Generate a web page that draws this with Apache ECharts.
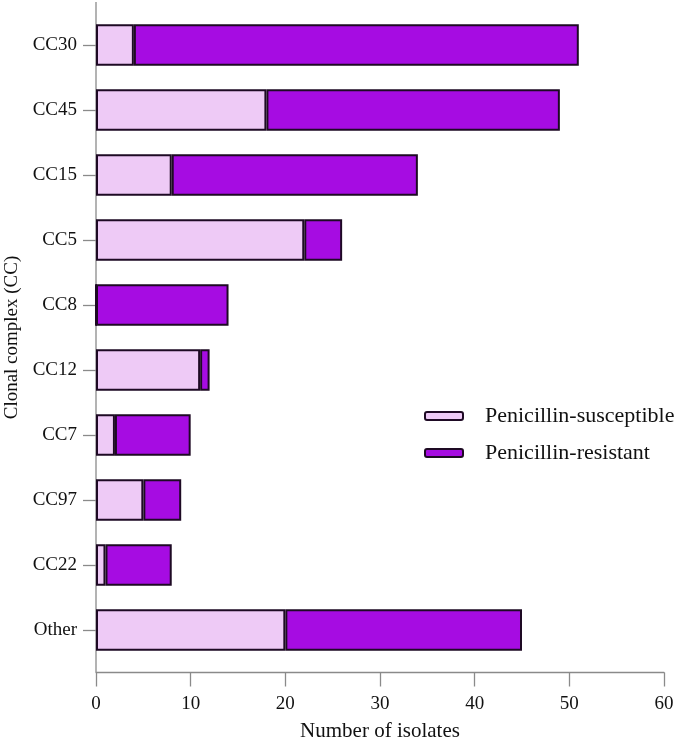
<!DOCTYPE html>
<html>
<head>
<meta charset="utf-8">
<script src="https://cdn.jsdelivr.net/npm/echarts@6/dist/echarts.min.js"></script>
<style>
html,body{margin:0;padding:0;background:#fff;}
#main{width:683px;height:745px;}
</style>
</head>
<body>
<div id="main"></div>
<script>
// 数据
var categories = ['CC30','CC45','CC15','CC5','CC8','CC12','CC7','CC97','CC22','Other'];
var susceptible = [4, 18, 8, 22, 0, 11, 2, 5, 1, 20];
var resistant = [47, 31, 26, 4, 14, 1, 8, 4, 7, 25];
var xTicks = [0, 10, 20, 30, 40, 50, 60];

var font = 'Liberation Serif';
var axisGray = '#8a8a8a';
var border = '#1e0a24';

var gLeft = 96, gTop = 12.5, gRight = 19, gBottom = 82.5;

var myChart = echarts.init(document.getElementById('main'));
var option = {
	backgroundColor: '#fff',
	textStyle: {fontFamily: font, color: '#111'},
	grid: {left: gLeft, top: gTop, right: gRight, bottom: gBottom, containLabel: false, outerBoundsMode: 'none'},
	legend: {
		orient: 'vertical',
		left: 419,
		top: 400,
		itemWidth: 38,
		itemHeight: 8,
		itemGap: 15,
		textStyle: {fontFamily: font, fontSize: 22, color: '#111', padding: [0, 0, 0, 17]},
		data: ['Penicillin-susceptible', 'Penicillin-resistant']
	},
	xAxis: {
		type: 'value',
		min: xTicks[0],
		max: xTicks[xTicks.length - 1],
		interval: 10,
		offset: 10,
		name: 'Number of isolates',
		nameLocation: 'middle',
		nameGap: 48,
		nameTextStyle: {fontFamily: font, fontSize: 21, color: '#111'},
		axisLine: {show: true, lineStyle: {color: axisGray, width: 1.3}},
		axisTick: {show: true, length: 14, lineStyle: {color: axisGray, width: 1.3}},
		axisLabel: {fontFamily: font, fontSize: 19, color: '#111', margin: 22},
		splitLine: {show: false}
	},
	yAxis: {
		type: 'category',
		inverse: true,
		data: categories,
		name: 'Clonal complex (CC)',
		nameLocation: 'middle',
		nameGap: 73,
		nameTextStyle: {fontFamily: font, fontSize: 19, color: '#111'},
		axisLine: {show: false},
		axisTick: {show: true, alignWithLabel: true, length: 13, lineStyle: {color: axisGray, width: 1.3}},
		axisLabel: {fontFamily: font, fontSize: 19, color: '#111', margin: 19}
	},
	graphic: [{
		type: 'line',
		shape: {x1: gLeft, y1: 2, x2: gLeft, y2: 672},
		style: {stroke: axisGray, lineWidth: 1.3},
		z: 1
	}],
	series: [
		{
			name: 'Penicillin-susceptible',
			type: 'bar',
			stack: 'all',
			barCategoryGap: '36%',
			itemStyle: {color: '#eecaf6', borderColor: border, borderWidth: 2},
			data: susceptible
		},
		{
			name: 'Penicillin-resistant',
			type: 'bar',
			stack: 'all',
			itemStyle: {color: '#a60ce2', borderColor: border, borderWidth: 2},
			data: resistant
		}
	]
};
myChart.setOption(option);
</script>
</body>
</html>
